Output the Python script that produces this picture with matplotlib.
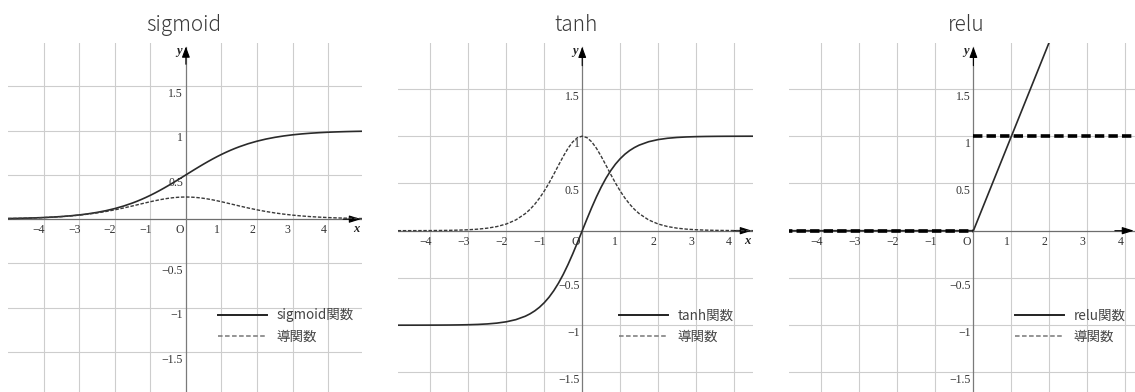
import numpy as np
import matplotlib.pyplot as plt
from matplotlib.lines import Line2D

W, H = 1135, 392

# sample positions (finer near the centre)
xs = [-5, -4.75, -4.5, -4.25, -4, -3.75, -3.5, -3.25, -3, -2.75, -2.5, -2.25, -2, -1.75,
      -1.5, -1.375, -1.25, -1.125, -1, -0.875, -0.75, -0.625, -0.5, -0.375, -0.25, -0.125,
      0, 0.125, 0.25, 0.375, 0.5, 0.625, 0.75, 0.875, 1, 1.125, 1.25, 1.375, 1.5,
      1.75, 2, 2.25, 2.5, 2.75, 3, 3.25, 3.5, 3.75, 4, 4.25, 4.5, 4.75, 5]

sigmoid = [0.0067, 0.0086, 0.0110, 0.0141, 0.0180, 0.0230, 0.0293, 0.0373, 0.0474, 0.0601,
           0.0759, 0.0953, 0.1192, 0.1480,
           0.1824, 0.2018, 0.2227, 0.2451, 0.2689, 0.2942, 0.3208, 0.3487, 0.3775, 0.4073,
           0.4378, 0.4688, 0.5, 0.5312, 0.5622, 0.5927, 0.6225, 0.6513, 0.6792, 0.7058,
           0.7311, 0.7549, 0.7773, 0.7982, 0.8176,
           0.8520, 0.8808, 0.9047, 0.9241, 0.9399, 0.9526, 0.9627, 0.9707, 0.9770, 0.9820,
           0.9859, 0.9890, 0.9914, 0.9933]

d_sigmoid = [0.0066, 0.0085, 0.0109, 0.0139, 0.0177, 0.0225, 0.0285, 0.0359, 0.0452, 0.0565,
             0.0701, 0.0863, 0.1050, 0.1261,
             0.1491, 0.1611, 0.1731, 0.1850, 0.1966, 0.2076, 0.2179, 0.2271, 0.2350, 0.2414,
             0.2461, 0.2490, 0.25, 0.2490, 0.2461, 0.2414, 0.2350, 0.2271, 0.2179, 0.2076,
             0.1966, 0.1850, 0.1731, 0.1611, 0.1491,
             0.1261, 0.1050, 0.0863, 0.0701, 0.0565, 0.0452, 0.0359, 0.0285, 0.0225, 0.0177,
             0.0139, 0.0109, 0.0085, 0.0066]

tanh = [-0.9999, -0.9999, -0.9998, -0.9996, -0.9993, -0.9989, -0.9982, -0.9970, -0.9951, -0.9919,
        -0.9866, -0.9780, -0.9640, -0.9414,
        -0.9051, -0.8797, -0.8483, -0.8095, -0.7616, -0.7040, -0.6351, -0.5546, -0.4621, -0.3584,
        -0.2449, -0.1244, 0.0, 0.1244, 0.2449, 0.3584, 0.4621, 0.5546, 0.6351, 0.7040,
        0.7616, 0.8095, 0.8483, 0.8797, 0.9051,
        0.9414, 0.9640, 0.9780, 0.9866, 0.9919, 0.9951, 0.9970, 0.9982, 0.9989, 0.9993,
        0.9996, 0.9998, 0.9999, 0.9999]

d_tanh = [0.0002, 0.0003, 0.0005, 0.0008, 0.0013, 0.0022, 0.0036, 0.0060, 0.0099, 0.0162,
          0.0266, 0.0435, 0.0707, 0.1137,
          0.1807, 0.2259, 0.2804, 0.3450, 0.4200, 0.5045, 0.5966, 0.6924, 0.7864, 0.8716,
          0.9400, 0.9845, 1.0, 0.9845, 0.9400, 0.8716, 0.7864, 0.6924, 0.5966, 0.5045,
          0.4200, 0.3450, 0.2804, 0.2259, 0.1807,
          0.1137, 0.0707, 0.0435, 0.0266, 0.0162, 0.0099, 0.0060, 0.0036, 0.0022, 0.0013,
          0.0008, 0.0005, 0.0003, 0.0002]

relu_x = [-5, 0, 5]
relu = [0, 0, 5]
d_relu_x = [-5, 0, np.nan, 0, 5]
d_relu = [0, 0, np.nan, 1, 1]

names = ['sigmoid', 'tanh', 'relu']
xticks = [-4, -3, -2, -1, 1, 2, 3, 4]
yticks = [-1.5, -1, -0.5, 0.5, 1, 1.5]

def lab(v):
    s = '%g' % abs(v)
    return '\u2212' + s if v < 0 else s

# pixel box (left, right, top, bottom), limits, title centre, legend left
panels = [
    dict(box=(8, 362, 43, 392), xlim=(-5.0, 4.95), ylim=(-1.953, 1.99),
         tx=184, lx=218, xlab=4.78),
    dict(box=(398, 753, 43, 392), xlim=(-4.855, 4.5), ylim=(-1.707, 1.986),
         tx=576, lx=619, xlab=4.36),
    dict(box=(789, 1135, 43, 392), xlim=(-4.85, 4.25), ylim=(-1.707, 1.986),
         tx=966, lx=1015, xlab=4.27),
]

curves = [
    [(xs, sigmoid, 'solid'), (xs, d_sigmoid, 'dash')],
    [(xs, tanh, 'solid'), (xs, d_tanh, 'dash')],
    [(relu_x, relu, 'solid'), (d_relu_x, d_relu, 'thick')],
]

serif = 'Liberation Serif'
cjk = ['Noto Sans CJK JP', 'DejaVu Sans']

fig = plt.figure(figsize=(W / 100, H / 100), dpi=100)

for name, p, cs in zip(names, panels, curves):
    l, r, t, b = p['box']
    ax = fig.add_axes([l / W, 1 - b / H, (r - l) / W, (b - t) / H])
    ax.set_xlim(*p['xlim'])
    ax.set_ylim(*p['ylim'])
    for s in ax.spines.values():
        s.set_visible(False)
    ax.set_xticks(xticks)
    ax.set_yticks(yticks)
    ax.tick_params(length=0, labelbottom=False, labelleft=False)
    ax.grid(color='#cdcdcd', lw=0.8)
    ax.set_axisbelow(True)

    # coordinate axes with arrow heads
    ytip = p['ylim'][1] - 0.04
    xtip = p['xlim'][1] - 0.03
    ax.axhline(0, color='#6e6e6e', lw=0.9, zorder=1)
    ax.plot([0, 0], [p['ylim'][0], ytip], color='#7a7a7a', lw=0.9, zorder=1)
    ax.annotate('', xy=(0, ytip), xytext=(0, ytip - 0.2),
                arrowprops=dict(arrowstyle='-|>,head_length=0.65,head_width=0.24',
                                color='black', lw=0.8, shrinkA=0, shrinkB=0))
    ax.annotate('', xy=(xtip, 0), xytext=(xtip - 0.5, 0), annotation_clip=False,
                arrowprops=dict(arrowstyle='-|>,head_length=0.7,head_width=0.22',
                                color='black', lw=0.8, shrinkA=0, shrinkB=0))

    for v in xticks:
        ax.annotate(lab(v), (v, 0), xytext=(-3.5, -3.5), textcoords='offset points',
                    ha='center', va='top', fontsize=8.5, family=serif, color='#333333')
    for v in yticks:
        ax.annotate(lab(v), (0, v), xytext=(-2, -5.5), textcoords='offset points',
                    ha='right', va='center', fontsize=8.5, family=serif, color='#333333')
    ax.annotate('O', (0, 0), xytext=(-4.5, -3.5), textcoords='offset points',
                ha='center', va='top', fontsize=8.5, family=serif, color='#333333')
    ax.annotate('y', (0, ytip), xytext=(-3, -3), textcoords='offset points',
                ha='right', va='center', fontsize=9, family=serif, style='italic',
                weight='bold', color='#222222')
    ax.annotate('x', (p['xlab'], 0), xytext=(0, -3), textcoords='offset points',
                ha='center', va='top', fontsize=9, family=serif, style='italic',
                weight='bold', color='#222222')

    for cx, cy, kind in cs:
        if kind == 'solid':
            ax.plot(cx, cy, color='#2a2a2a', lw=1.2, zorder=3)
        elif kind == 'dash':
            ax.plot(cx, cy, color='#3a3a3a', lw=1.0, dashes=(2.5, 1.2), zorder=3)
        else:
            ax.plot(cx, cy, color='black', lw=2.6, dashes=(2.6, 1.15), zorder=3)

    handles = [Line2D([], [], color='#222222', lw=1.4),
               Line2D([], [], color='#777777', lw=1.1, dashes=(3, 1.6))]
    ax.legend(handles, [name + '関数', '導関数'], loc='center left',
              bbox_to_anchor=(p['lx'] / W, 1 - 326 / H), bbox_transform=fig.transFigure,
              frameon=False, borderpad=0, borderaxespad=0, handlelength=3.6,
              handletextpad=0.75, labelspacing=0.55, labelcolor='#444444',
              prop=dict(family=cjk, size=9.7))

    fig.text(p['tx'] / W, 1 - 31 / H, name, ha='center', va='baseline', fontsize=15,
             family=cjk, weight='light', color='#3a3a3a')

fig.savefig('out.png', dpi=100, facecolor='white')
